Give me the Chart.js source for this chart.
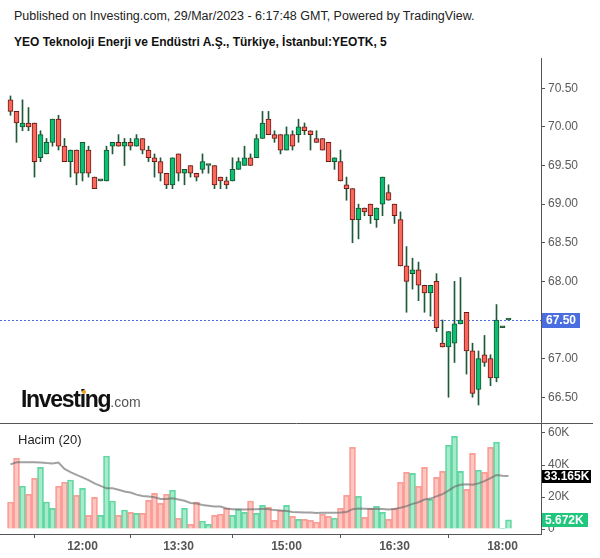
<!DOCTYPE html>
<html><head><meta charset="utf-8">
<script src="https://cdn.jsdelivr.net/npm/chart.js@4"></script>
<style>
html,body{margin:0;padding:0;background:#fff;width:600px;height:558px;overflow:hidden;font-family:"Liberation Sans",Arial,sans-serif;}
#t1{position:absolute;left:14px;top:8px;font-size:12.5px;line-height:16px;color:#222;white-space:nowrap;}
#t2{position:absolute;left:14px;top:34px;font-size:12px;line-height:16px;font-weight:bold;color:#111;white-space:nowrap;}
#pc{position:absolute;left:0;top:58px;}
#vc{position:absolute;left:0;top:423px;}
#hacim{position:absolute;left:18px;top:432px;font-size:13px;line-height:16px;color:#222;}
#logo{position:absolute;left:21px;top:386px;white-space:nowrap;line-height:26px;}
#logo .a{font-weight:bold;font-size:23px;letter-spacing:-1.3px;color:#111;}
#logo .b{font-size:14px;color:#555;}
#dot{position:absolute;left:82px;top:390px;width:4px;height:4px;border-radius:2px;background:#f7a21b;}
</style></head>
<body>
<div id="t1">Published on Investing.com, 29/Mar/2023 - 6:17:48 GMT, Powered by TradingView.</div>
<div id="t2">YEO Teknoloji Enerji ve Endüstri A.Ş., Türkiye, İstanbul:YEOTK, 5</div>
<canvas id="pc" width="600" height="365"></canvas>
<canvas id="vc" width="600" height="135"></canvas>
<div id="logo"><span class="a">Investing</span><span class="b">.com</span></div>
<div id="dot"></div>
<div id="hacim">Hacim (20)</div>
<script>
const categories = [
"11:00","11:05","11:10","11:15","11:20","11:25","11:30","11:35","11:40","11:45","11:50","11:55","12:00",
"12:05","12:10","12:15","12:20","12:25","12:30","12:35","12:40","12:45","12:50","12:55","13:00","13:05","13:15","13:25",
"13:30","13:35","13:40","13:45","13:50","13:55","14:00","14:05","14:10","14:15","14:20","14:25","14:30","14:35","14:40","14:45","14:50","14:55","15:00",
"15:05","15:10","15:15","15:20","15:25","15:30","15:35","15:40","15:45","15:50","15:55","16:00","16:05","16:10","16:15","16:20","16:25","16:30",
"16:35","16:40","16:45","16:50","16:55","17:00","17:05","17:10","17:15","17:20","17:25","17:30","17:35","17:40","17:45","17:50","17:55","18:00","18:05"];

const opens = [70.35,70.20,70.00,70.05,70.05,69.60,69.65,69.80,70.10,69.75,69.55,69.70,69.40,69.70,69.35,69.30,69.30,69.75,69.80,69.75,69.80,69.75,69.85,69.70,69.60,69.55,69.40,69.25,69.65,69.40,69.50,69.40,69.45,69.50,69.50,69.35,69.30,69.30,69.45,69.50,69.60,69.60,69.85,70.10,69.90,69.90,69.70,69.90,69.90,70.00,69.95,69.85,69.85,69.80,69.55,69.55,69.25,69.20,68.80,68.95,69.00,68.80,69.00,69.15,69.00,68.80,68.20,68.10,68.15,67.95,67.85,68.00,67.20,67.15,67.20,67.45,67.60,67.10,66.60,67.05,67.00,66.75,67.40,67.50];
const highs = [70.40,70.20,70.35,70.25,70.05,69.95,69.85,70.10,70.15,69.85,69.70,69.70,69.80,69.75,69.35,69.30,69.75,69.80,69.90,69.85,69.85,69.90,69.85,69.75,69.65,69.60,69.40,69.60,69.65,69.45,69.50,69.40,69.65,69.50,69.50,69.35,69.35,69.60,69.60,69.75,69.65,69.90,70.20,70.20,69.95,69.90,70.00,69.95,70.10,70.05,69.95,69.95,69.85,69.80,69.60,69.70,69.35,69.20,69.00,68.95,69.00,68.95,69.35,69.25,69.00,68.90,68.45,68.30,68.25,67.95,67.95,68.10,67.50,67.35,68.00,68.05,67.60,67.20,67.10,67.30,67.05,67.70,67.40,67.50];
const lows = [70.15,69.80,69.95,69.95,69.35,69.55,69.65,69.75,69.70,69.55,69.35,69.25,69.30,69.35,69.20,69.30,69.30,69.65,69.75,69.50,69.70,69.75,69.65,69.55,69.35,69.30,69.20,69.20,69.30,69.25,69.35,69.30,69.40,69.40,69.20,69.20,69.20,69.30,69.45,69.50,69.50,69.60,69.85,69.90,69.80,69.65,69.70,69.70,69.80,69.90,69.70,69.80,69.70,69.55,69.45,69.30,69.05,68.50,68.55,68.85,68.75,68.70,68.85,69.05,68.75,68.20,67.60,67.90,67.75,67.60,67.55,67.35,67.15,66.50,66.95,67.45,66.80,66.50,66.40,66.90,66.65,66.70,67.40,67.50];
const closes = [70.20,70.05,70.05,70.00,69.55,69.90,69.80,70.10,69.75,69.55,69.70,69.40,69.80,69.40,69.20,69.30,69.70,69.80,69.75,69.80,69.75,69.85,69.70,69.60,69.55,69.40,69.25,69.60,69.40,69.45,69.40,69.35,69.55,69.50,69.25,69.30,69.25,69.45,69.55,69.60,69.50,69.85,70.05,69.90,69.85,69.70,69.90,69.75,70.00,69.95,69.90,69.80,69.70,69.55,69.60,69.30,69.20,68.80,68.95,68.90,68.85,68.95,69.35,69.05,68.85,68.20,68.00,68.15,67.95,67.85,67.95,67.40,67.15,67.35,67.45,67.50,67.10,66.55,67.00,66.95,66.75,67.50,67.40,67.50];
const volumes = [16900,44200,26700,21700,31700,38500,16900,12900,26700,29200,30600,21000,25400,8500,19800,8500,45600,17500,8500,11900,10400,9800,9800,17900,22300,16000,21700,24200,6700,12900,2900,16900,5000,2900,8500,9200,12900,8500,12300,10400,17500,9800,14800,13500,5400,11700,14800,7900,6000,6000,5400,4200,9200,7900,6700,12900,21000,51000,20400,7300,12900,14200,10400,6000,12900,29200,35400,34800,26700,38500,18500,32300,36000,52300,57900,36000,24800,47300,36700,35400,51000,54200,400,5672];
const volumeMA = [40400,41700,41700,41700,41700,41500,41200,41000,41500,37500,35500,33800,32300,30500,28500,27000,25400,25400,24500,23500,22800,21500,20600,20300,19800,18800,18800,19200,18400,17600,16300,15900,15000,14600,14100,14000,12800,12300,12300,12200,12400,12400,12700,12400,11800,11500,11200,10600,10500,10300,10300,10000,10100,10200,10200,10300,10600,12400,12800,12700,12500,12700,12500,12200,12500,13300,14300,15700,16700,18400,19000,20400,21800,24000,26500,27700,27900,27700,28500,29900,31800,33800,33300,33165];
const priceTicks = [66.5,67.0,67.5,68.0,68.5,69.0,69.5,70.0,70.5];
const volumeTicks = [0,20000,40000,60000];
const tickLabels = ["12:00","13:30","15:00","16:30","18:00"];
const lastPrice = 67.50;

const FONT = '"Liberation Sans", Arial, sans-serif';
Chart.defaults.font.family = FONT;
const n = opens.length;
const xMin = -1.75, xMax = 88.4167;
const upFill = '#0dbf72', upBorder = '#17532f', dnFill = '#f9685b', dnBorder = '#6a1a14', wickCol = '#1d5a37';
const bodyFill = [], bodyBorder = [], volFill = [], volBorder = [];
for (let i = 0; i < n; i++) {
  if (opens[i] === closes[i]) { bodyFill.push(wickCol); bodyBorder.push(wickCol); }
  else if (closes[i] > opens[i]) { bodyFill.push(upFill); bodyBorder.push(upBorder); }
  else { bodyFill.push(dnFill); bodyBorder.push(dnBorder); }
  const up = closes[i] >= opens[i];
  volFill.push(up ? 'rgba(80,215,155,0.5)' : 'rgba(255,140,130,0.5)');
  volBorder.push(up ? 'rgba(60,205,140,0.8)' : 'rgba(245,130,120,0.75)');
}
const noPad = s => { s.width = 59; s.paddingTop = 0; s.paddingBottom = 0; };

const priceOverlay = {
  id: 'priceOverlay',
  beforeDatasetsDraw(chart) {
    const {ctx, chartArea, scales: {y}} = chart;
    const py = Math.round(y.getPixelForValue(lastPrice)) + 0.5;
    ctx.save(); ctx.strokeStyle = '#4a6ee0'; ctx.lineWidth = 1; ctx.setLineDash([2, 2]);
    ctx.beginPath(); ctx.moveTo(chartArea.left, py); ctx.lineTo(chartArea.right, py); ctx.stroke(); ctx.restore();
  },
  afterDraw(chart) {
    const {ctx, chartArea, scales: {y}} = chart;
    const py = Math.round(y.getPixelForValue(lastPrice));
    ctx.save();
    ctx.fillStyle = '#4a6ee0'; ctx.fillRect(chartArea.right + 1, py - 7, 38, 15);
    ctx.fillStyle = '#fff'; ctx.font = 'bold 12px ' + FONT; ctx.textBaseline = 'middle';
    ctx.fillText(lastPrice.toFixed(2), chartArea.right + 5, py + 1);
    ctx.restore();
  }
};

new Chart(document.getElementById('pc'), {
  type: 'bar',
  data: { datasets: [
    { data: opens.map((o, i) => ({x: i, y: [o, closes[i]]})), backgroundColor: bodyFill, borderColor: bodyBorder,
      borderWidth: 1, borderSkipped: false, barThickness: 5, grouped: false, minBarLength: 2, order: 0 },
    { data: lows.map((l, i) => ({x: i, y: [l, highs[i]]})), backgroundColor: wickCol, borderWidth: 0,
      barThickness: 1, grouped: false, order: 1 }
  ]},
  options: {
    responsive: false, animation: false, events: [],
    layout: { padding: 0 },
    plugins: { legend: { display: false }, tooltip: { enabled: false } },
    scales: {
      x: { type: 'linear', min: xMin, max: xMax, offset: false, display: false },
      y: { position: 'right', min: 67.5 - 103 / 77.25, max: 67.5 + 262 / 77.25,
        afterBuildTicks: s => { s.ticks = priceTicks.map(v => ({value: v})); },
        afterFit: noPad,
        grid: { drawOnChartArea: false, drawTicks: true, tickLength: 4, color: '#555' },
        border: { color: '#555' },
        ticks: { color: '#5a5a5a', font: { size: 12 }, padding: 3, callback: v => Number(v).toFixed(2) } }
    }
  },
  plugins: [priceOverlay]
});

const volOverlay = {
  id: 'volOverlay',
  afterDraw(chart) {
    const {ctx, chartArea, scales: {y}} = chart;
    ctx.save();
    ctx.strokeStyle = '#555'; ctx.lineWidth = 1;
    ctx.beginPath(); ctx.moveTo(0, chartArea.top + 0.5); ctx.lineTo(593, chartArea.top + 0.5); ctx.stroke();
    const lastMA = volumeMA[n - 1], lastV = volumes[n - 1];
    const my = Math.round(y.getPixelForValue(lastMA));
    ctx.fillStyle = '#000'; ctx.fillRect(chartArea.right + 1, my - 6, 49, 13);
    ctx.font = 'bold 12px ' + FONT; ctx.textBaseline = 'middle'; ctx.fillStyle = '#fff';
    ctx.fillText((lastMA / 1000).toFixed(3) + 'K', chartArea.right + 3, my + 1);
    const vy = Math.round(y.getPixelForValue(lastV));
    ctx.fillStyle = '#1fc67c'; ctx.fillRect(chartArea.right + 1, vy - 7, 46, 14);
    ctx.fillStyle = '#fff'; ctx.fillText((lastV / 1000).toFixed(3) + 'K', chartArea.right + 4, vy + 1);
    ctx.restore();
  }
};

new Chart(document.getElementById('vc'), {
  type: 'bar',
  data: { datasets: [
    { type: 'line', data: volumeMA.map((v, i) => ({x: i, y: v})), borderColor: 'rgba(110,110,110,0.65)', borderWidth: 2,
      pointRadius: 0, tension: 0, order: 0 },
    { type: 'bar', data: volumes.map((v, i) => ({x: i, y: v})), backgroundColor: volFill, borderColor: volBorder,
      borderWidth: 1, barThickness: 6, grouped: false, order: 1 }
  ]},
  options: {
    responsive: false, animation: false, events: [],
    layout: { padding: 0 },
    plugins: { legend: { display: false }, tooltip: { enabled: false } },
    scales: {
      x: { type: 'linear', min: xMin, max: xMax, offset: false,
        afterBuildTicks: s => { s.ticks = tickLabels.map(t => ({value: categories.indexOf(t)})); },
        afterFit: s => { s.height = 24; s.paddingLeft = 0; s.paddingRight = 0; },
        grid: { drawOnChartArea: false, drawTicks: true, tickLength: 4, color: '#555' },
        border: { color: '#555' },
        ticks: { color: '#555', font: { size: 12, weight: 'bold' }, padding: 1, maxRotation: 0, autoSkip: false,
          callback: v => categories[v] } },
      y: { position: 'right', min: -3125, max: 66250,
        afterBuildTicks: s => { s.ticks = volumeTicks.map(v => ({value: v})); },
        afterFit: noPad,
        grid: { drawOnChartArea: false, drawTicks: true, tickLength: 4, color: '#555' },
        border: { color: '#555' },
        ticks: { color: '#5a5a5a', font: { size: 12 }, padding: 3, callback: v => v === 0 ? '0' : (v / 1000) + 'K' } }
    }
  },
  plugins: [volOverlay]
});
</script>
</body></html>
